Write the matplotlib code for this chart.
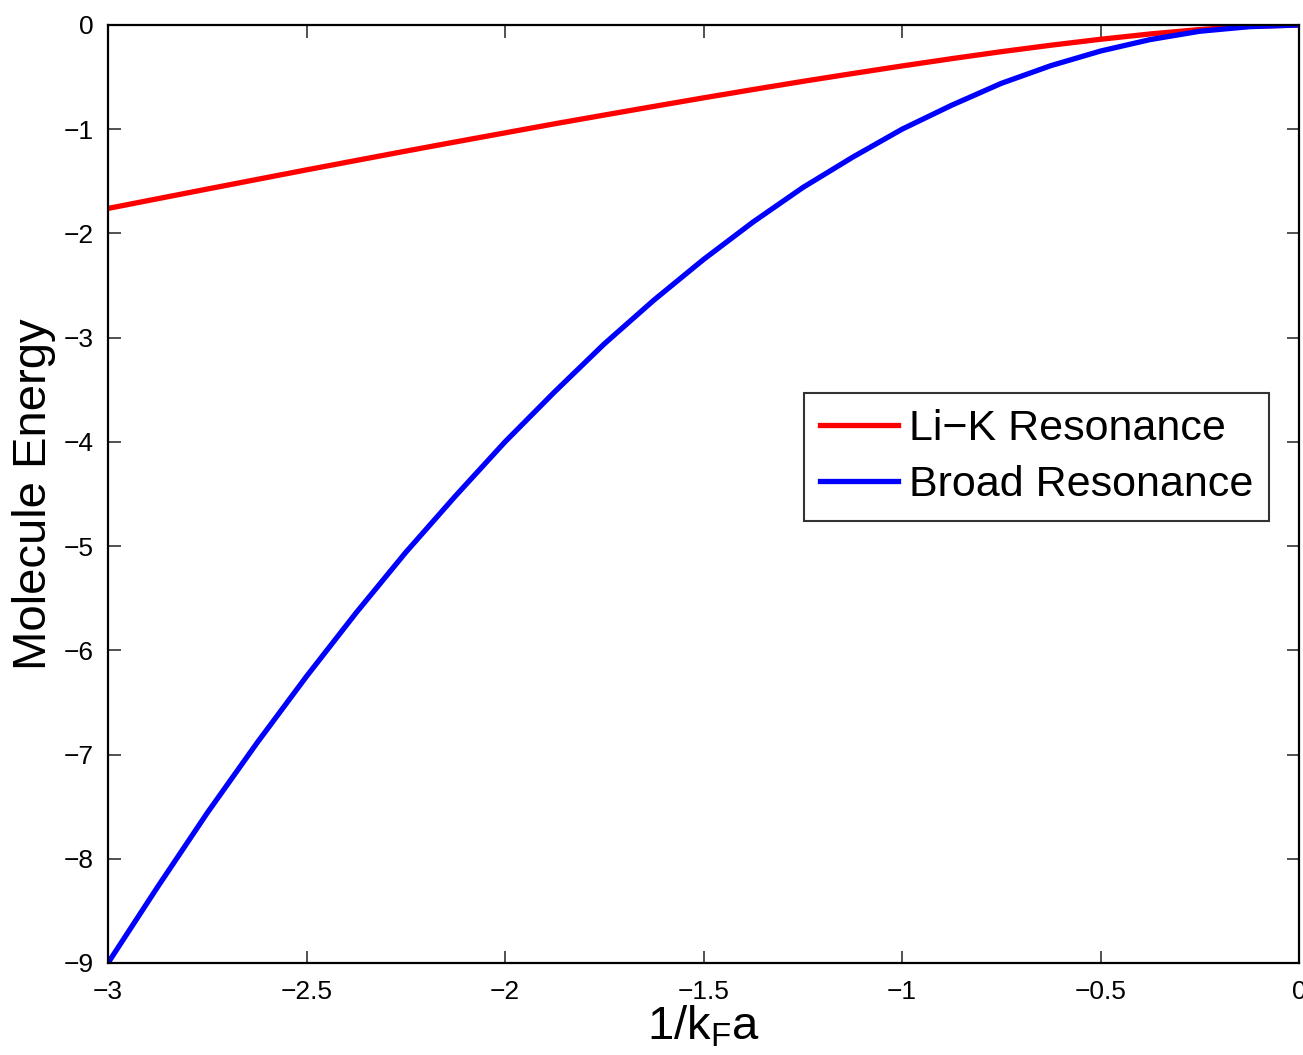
import matplotlib
matplotlib.use("Agg")
import matplotlib.pyplot as plt

plt.rcParams['font.family'] = ['Liberation Sans', 'DejaVu Sans']
plt.rcParams['mathtext.fontset'] = 'custom'
plt.rcParams['mathtext.rm'] = 'Liberation Sans'
plt.rcParams['mathtext.it'] = 'Liberation Sans'

# Data
inv_kfa = [-3.0, -2.875, -2.75, -2.625, -2.5, -2.375, -2.25, -2.125, -2.0,
           -1.875, -1.75, -1.625, -1.5, -1.375, -1.25, -1.125, -1.0,
           -0.875, -0.75, -0.625, -0.5, -0.375, -0.25, -0.125, 0.0]
lik_energy = [-1.76, -1.667, -1.574, -1.482, -1.39, -1.30, -1.21, -1.122, -1.035,
              -0.948, -0.864, -0.781, -0.699, -0.619, -0.541, -0.466, -0.393,
              -0.323, -0.256, -0.194, -0.137, -0.086, -0.0435, -0.0127, 0.0]
broad_energy = [-9.0, -8.27, -7.56, -6.89, -6.25, -5.64, -5.06, -4.52, -4.0,
                -3.52, -3.06, -2.64, -2.25, -1.89, -1.56, -1.27, -1.0,
                -0.77, -0.56, -0.39, -0.25, -0.14, -0.06, -0.016, 0.0]

series_labels = ['Li\u2212K Resonance', 'Broad Resonance']
xticks = [-3, -2.5, -2, -1.5, -1, -0.5, 0]
xtick_labels = ['\u22123', '\u22122.5', '\u22122', '\u22121.5', '\u22121', '\u22120.5', '0']
yticks = [-9, -8, -7, -6, -5, -4, -3, -2, -1, 0]
ytick_labels = ['\u22129', '\u22128', '\u22127', '\u22126', '\u22125', '\u22124',
                '\u22123', '\u22122', '\u22121', '0']

fig = plt.figure(figsize=(13.03, 10.55), dpi=100)
ax = fig.add_axes([108/1303, 1 - 963/1055, 1191/1303, 938/1055])

ax.plot(inv_kfa, lik_energy, color='#ff0000', lw=3.8, label=series_labels[0])
ax.plot(inv_kfa, broad_energy, color='#0000ff', lw=3.8, label=series_labels[1])

ax.set_xlim(-3, 0)
ax.set_ylim(-9, 0)
ax.set_xticks(xticks)
ax.set_xticklabels(xtick_labels)
ax.set_yticks(yticks)
ax.set_yticklabels(ytick_labels)
ax.tick_params(direction='in', length=9, width=1.2, labelsize=19,
               top=True, right=True, pad=10, color='#333333')
ax.tick_params(axis='x', pad=12)
for s in ax.spines.values():
    s.set_linewidth(1.6)

ax.set_ylabel('Molecule Energy', fontsize=34, labelpad=6)
ax.set_xlabel('1/k$_\\mathrm{F}$a', fontsize=34, labelpad=0)

leg = ax.legend(loc='upper left', bbox_to_anchor=(0.5844, 0.6077),
                borderaxespad=0, fontsize=31, fancybox=False, frameon=True,
                edgecolor='black', handlelength=1.8, handletextpad=0.25,
                borderpad=0.38, labelspacing=0.36)
leg.get_frame().set_linewidth(1.5)

fig.savefig('out.png', dpi=100)
